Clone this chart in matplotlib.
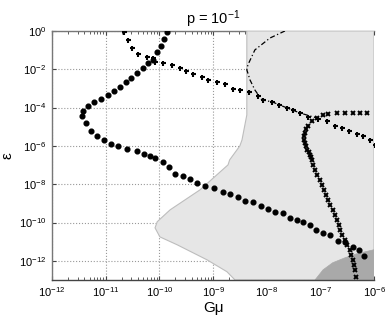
import numpy as np
import matplotlib
matplotlib.use("Agg")
import matplotlib.pyplot as plt
from matplotlib.ticker import FixedLocator, NullFormatter, NullLocator

plt.rcParams['font.family'] = ['Liberation Sans', 'DejaVu Sans']
plt.rcParams['mathtext.fontset'] = 'custom'
plt.rcParams['mathtext.rm'] = 'Liberation Sans'
plt.rcParams['mathtext.it'] = 'Liberation Sans:italic'
plt.rcParams['mathtext.bf'] = 'Liberation Sans:bold'

# log10 values
dots_x = [-9.86, -9.91, -9.97, -10.04, -10.12, -10.21, -10.31, -10.42, -10.53, -10.62,
          -10.73, -10.85, -10.96, -11.09, -11.22, -11.33, -11.42, -11.44, -11.37, -11.27,
          -11.16, -11.03, -10.90, -10.77, -10.60, -10.42, -10.29, -10.18, -10.08, -9.93,
          -9.82, -9.71, -9.56, -9.43, -9.30, -9.15, -8.98, -8.82, -8.69, -8.54,
          -8.41, -8.26, -8.11, -7.98, -7.85, -7.70, -7.57, -7.44, -7.33, -7.20,
          -7.08, -6.95, -6.82, -6.67, -6.54, -6.39, -6.28, -6.19]
dots_y = [-0.05, -0.42, -0.78, -1.10, -1.51, -1.67, -1.93, -2.19, -2.45, -2.66,
          -2.92, -3.13, -3.34, -3.55, -3.70, -3.91, -4.17, -4.43, -4.80, -5.22,
          -5.48, -5.69, -5.89, -6.00, -6.16, -6.26, -6.42, -6.52, -6.62, -6.83,
          -7.09, -7.46, -7.56, -7.72, -7.93, -8.09, -8.19, -8.40, -8.50, -8.66,
          -8.87, -8.92, -9.13, -9.29, -9.44, -9.49, -9.75, -9.86, -9.96, -10.12,
          -10.38, -10.54, -10.64, -10.95, -11.01, -11.27, -11.42, -11.74]

plus_x = [-10.66, -10.58, -10.51, -10.40, -10.23, -10.12, -10.08, -9.93, -9.77, -9.62,
          -9.50, -9.37, -9.21, -9.09, -8.93, -8.78, -8.63, -8.50, -8.33, -8.16,
          -8.07, -7.90, -7.77, -7.62, -7.51, -7.38, -7.23, -7.05, -6.88, -6.73,
          -6.60, -6.47, -6.32, -6.21, -6.08, -5.99]
plus_y = [-0.05, -0.47, -0.89, -1.20, -1.36, -1.41, -1.62, -1.67, -1.77, -1.93,
          -2.09, -2.24, -2.40, -2.56, -2.66, -2.76, -3.03, -3.08, -3.18, -3.39,
          -3.60, -3.70, -3.86, -4.02, -4.12, -4.28, -4.49, -4.59, -4.69, -4.96,
          -5.06, -5.22, -5.37, -5.48, -5.69, -5.95]

cross_x = [-6.13, -6.26, -6.39, -6.54, -6.69, -6.86, -6.95, -7.07, -7.16, -7.23,
           -7.27, -7.29, -7.31, -7.30, -7.29, -7.27, -7.25, -7.22, -7.20, -7.18,
           -7.16, -7.13, -7.10, -7.06, -7.01, -6.97, -6.93, -6.90, -6.86, -6.82,
           -6.77, -6.73, -6.69, -6.66, -6.64, -6.59, -6.54, -6.50, -6.45, -6.42,
           -6.39, -6.37, -6.36, -6.34]
cross_y = [-4.28, -4.28, -4.28, -4.28, -4.28, -4.33, -4.38, -4.54, -4.69, -4.96,
           -5.14, -5.32, -5.50, -5.69, -5.85, -6.00, -6.21, -6.34, -6.47, -6.60,
           -6.73, -6.99, -7.25, -7.51, -7.77, -8.03, -8.29, -8.55, -8.82, -9.08,
           -9.34, -9.60, -9.86, -10.12, -10.38, -10.64, -10.90, -11.16, -11.42, -11.68,
           -11.95, -12.21, -12.47, -12.85]

dash_x = [-7.66, -7.94, -8.22, -8.35, -8.37, -8.31, -8.22, -8.09, -7.90, -7.62, -7.38, -7.07]
dash_y = [0.0, -0.37, -0.99, -1.77, -2.03, -2.56, -3.08, -3.60, -3.70, -4.02, -4.28, -4.54]

light_x = [-6.0, -8.37, -8.37, -8.46, -8.50, -8.69, -8.72, -9.24, -9.80, -10.04,
           -10.08, -9.99, -9.67, -9.11, -8.74, -8.59, -6.0]
light_y = [0.0, 0.0, -4.38, -5.69, -6.00, -6.73, -6.99, -8.29, -9.34, -9.96,
           -10.28, -10.75, -11.16, -11.95, -12.57, -13.0, -13.0]

dark_x = [-7.10, -6.95, -6.77, -6.54, -6.32, -6.0, -6.0]
dark_y = [-13.0, -12.47, -12.10, -11.84, -11.63, -11.42, -13.0]

x_decades = [-12, -11, -10, -9, -8, -7, -6]
y_decades = [-12, -10, -8, -6, -4, -2, 0]

fig = plt.figure(figsize=(3.88, 3.16), dpi=100)
ax = fig.add_axes([0.134, 0.114, 0.830, 0.788])
ax.set_xscale('log')
ax.set_yscale('log')
ax.set_xlim(1e-12, 1e-6)
ax.set_ylim(1e-13, 1)

p = lambda v: 10.0 ** np.array(v)

ax.fill(p(light_x), p(light_y), facecolor='#e6e6e6', edgecolor='#bdbdbd', lw=0.8, zorder=2.6)
ax.fill(p(dark_x), p(dark_y), facecolor='#a9a9a9', edgecolor='#a9a9a9', lw=0.5, zorder=2.7)

ax.plot(p(dash_x), p(dash_y), color='black', ls=(0, (4, 2, 1, 2)), lw=0.9, zorder=3)
ax.plot(p(dots_x), p(dots_y), 'o', color='black', ms=3.4, zorder=4)
ax.plot(p(plus_x), p(plus_y), '+', color='black', ms=3.6, mew=1.5, zorder=4)
ax.plot(p(cross_x), p(cross_y), 'x', color='black', ms=2.8, mew=1.4, zorder=4)

minor_x = [m * 10.0 ** d for d in x_decades[:-1] for m in range(2, 10)]
ax.xaxis.set_major_locator(FixedLocator(p(x_decades)))
ax.xaxis.set_minor_locator(FixedLocator(minor_x))
ax.xaxis.set_minor_formatter(NullFormatter())
ax.set_xticklabels(['$10^{%d}$' % d for d in x_decades])
ax.yaxis.set_major_locator(FixedLocator(p(y_decades)))
ax.yaxis.set_minor_locator(NullLocator())
ax.set_yticklabels(['$10^{%d}$' % d for d in y_decades])

ax.grid(True, which='major', ls=':', color='#999999', lw=0.8)
ax.tick_params(which='both', direction='in', top=True, right=False, labelsize=8,
               colors='#444444', labelcolor='black')
ax.tick_params(which='major', length=3, pad=4)
ax.tick_params(which='minor', length=2)
for s in ax.spines.values():
    s.set_color('#777777')
    s.set_linewidth(1.0)
ax.spines['bottom'].set_color('#444444')
ax.spines['bottom'].set_zorder(3)
ax.spines['right'].set_visible(False)

ax.set_title('p = 10$^{-1}$', fontsize=10.5, pad=5)
ax.set_xlabel('Gμ', fontsize=11)
ax.xaxis.set_label_coords(0.5, -0.085)
ax.set_ylabel('ε', fontsize=11)
ax.yaxis.set_label_coords(-0.115, 0.5)

fig.savefig('out.png', dpi=100)
